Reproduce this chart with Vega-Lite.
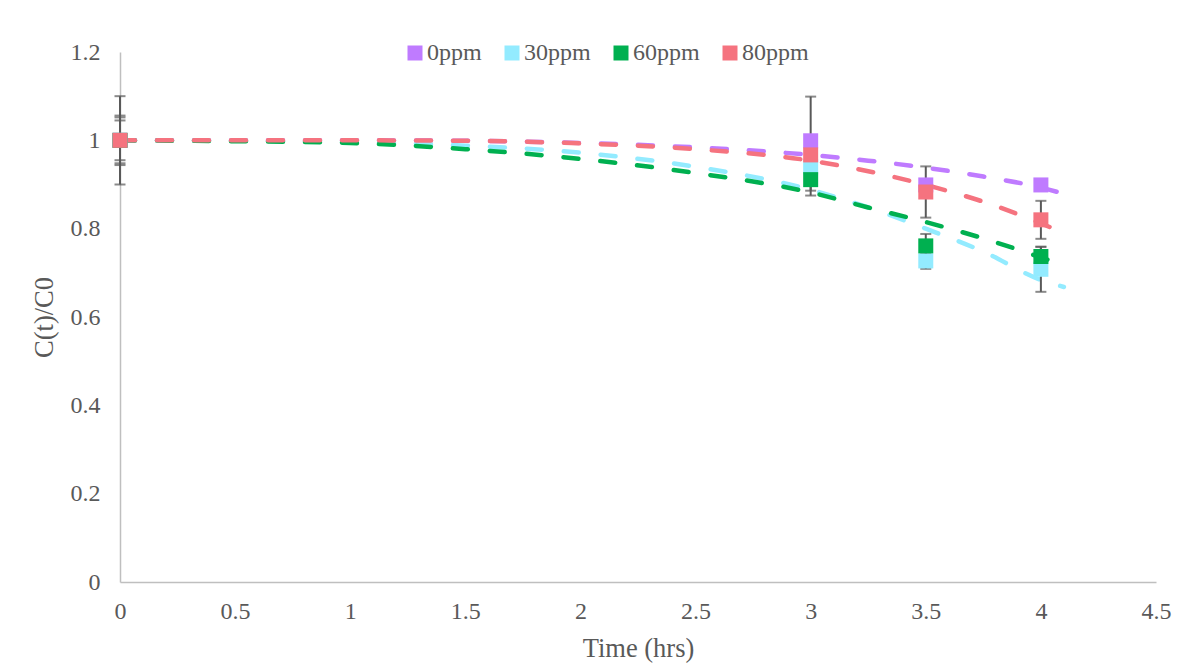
{
  "$schema": "https://vega.github.io/schema/vega-lite/v6.json",
  "width": 1036,
  "height": 530,
  "autosize": {"type": "none"},
  "padding": {"left": 120, "top": 52, "right": 24, "bottom": 82},
  "background": "white",
  "config": {
    "view": {"stroke": null},
    "font": "Times New Roman",
    "axis": {
      "grid": false,
      "ticks": false,
      "domainColor": "#BFBFBF",
      "domainWidth": 1.5,
      "labelColor": "#595959",
      "titleColor": "#595959",
      "labelFont": "Times New Roman",
      "titleFont": "Times New Roman",
      "labelFontSize": 24,
      "titleFontSize": 26.5,
      "titleFontWeight": "normal"
    },
    "legend": {
      "labelFont": "Times New Roman"
    }
  },
  "datasets": {
    "points": [
      {"series": "0ppm", "t": 0, "y": 1, "lo": 0.9, "hi": 1.1},
      {"series": "0ppm", "t": 3, "y": 0.999, "lo": 0.899, "hi": 1.099},
      {"series": "0ppm", "t": 3.5, "y": 0.899, "lo": 0.895, "hi": 0.903},
      {"series": "0ppm", "t": 4, "y": 0.899, "lo": 0.895, "hi": 0.903},
      {"series": "30ppm", "t": 0, "y": 1, "lo": 0.944, "hi": 1.056},
      {"series": "30ppm", "t": 3, "y": 0.94, "lo": 0.875, "hi": 1.005},
      {"series": "30ppm", "t": 3.5, "y": 0.727, "lo": 0.709, "hi": 0.745},
      {"series": "30ppm", "t": 4, "y": 0.708, "lo": 0.657, "hi": 0.759},
      {"series": "60ppm", "t": 0, "y": 1, "lo": 0.955, "hi": 1.045},
      {"series": "60ppm", "t": 3, "y": 0.911, "lo": 0.886, "hi": 0.936},
      {"series": "60ppm", "t": 3.5, "y": 0.761, "lo": 0.734, "hi": 0.788},
      {"series": "60ppm", "t": 4, "y": 0.737, "lo": 0.715, "hi": 0.759},
      {"series": "80ppm", "t": 0, "y": 1, "lo": 0.948, "hi": 1.052},
      {"series": "80ppm", "t": 3, "y": 0.967, "lo": 0.955, "hi": 0.979},
      {"series": "80ppm", "t": 3.5, "y": 0.883, "lo": 0.825, "hi": 0.941},
      {"series": "80ppm", "t": 4, "y": 0.82, "lo": 0.777, "hi": 0.863}
    ],
    "trend": [
      {"series": "0ppm", "t": 0, "v": 1},
      {"series": "0ppm", "t": 0.5, "v": 1},
      {"series": "0ppm", "t": 1, "v": 1},
      {"series": "0ppm", "t": 1.5, "v": 0.999},
      {"series": "0ppm", "t": 2, "v": 0.994},
      {"series": "0ppm", "t": 2.5, "v": 0.984},
      {"series": "0ppm", "t": 3, "v": 0.967},
      {"series": "0ppm", "t": 3.25, "v": 0.954},
      {"series": "0ppm", "t": 3.5, "v": 0.938},
      {"series": "0ppm", "t": 3.75, "v": 0.918},
      {"series": "0ppm", "t": 4, "v": 0.893},
      {"series": "0ppm", "t": 4.1, "v": 0.879},
      {"series": "30ppm", "t": 0, "v": 1},
      {"series": "30ppm", "t": 0.5, "v": 0.999},
      {"series": "30ppm", "t": 1, "v": 0.996},
      {"series": "30ppm", "t": 1.5, "v": 0.988},
      {"series": "30ppm", "t": 2, "v": 0.972},
      {"series": "30ppm", "t": 2.5, "v": 0.94},
      {"series": "30ppm", "t": 3, "v": 0.888},
      {"series": "30ppm", "t": 3.25, "v": 0.848},
      {"series": "30ppm", "t": 3.5, "v": 0.8},
      {"series": "30ppm", "t": 3.75, "v": 0.748},
      {"series": "30ppm", "t": 4, "v": 0.684},
      {"series": "30ppm", "t": 4.1, "v": 0.668},
      {"series": "60ppm", "t": 0, "v": 1},
      {"series": "60ppm", "t": 0.5, "v": 0.998},
      {"series": "60ppm", "t": 1, "v": 0.994},
      {"series": "60ppm", "t": 1.5, "v": 0.98},
      {"series": "60ppm", "t": 2, "v": 0.958},
      {"series": "60ppm", "t": 2.5, "v": 0.926},
      {"series": "60ppm", "t": 3, "v": 0.882},
      {"series": "60ppm", "t": 3.25, "v": 0.848},
      {"series": "60ppm", "t": 3.5, "v": 0.815},
      {"series": "60ppm", "t": 3.75, "v": 0.778},
      {"series": "60ppm", "t": 4, "v": 0.735},
      {"series": "60ppm", "t": 4.1, "v": 0.717},
      {"series": "80ppm", "t": 0, "v": 1},
      {"series": "80ppm", "t": 0.5, "v": 1},
      {"series": "80ppm", "t": 1, "v": 1},
      {"series": "80ppm", "t": 1.5, "v": 0.999},
      {"series": "80ppm", "t": 2, "v": 0.993},
      {"series": "80ppm", "t": 2.5, "v": 0.98},
      {"series": "80ppm", "t": 3, "v": 0.954},
      {"series": "80ppm", "t": 3.25, "v": 0.93},
      {"series": "80ppm", "t": 3.5, "v": 0.899},
      {"series": "80ppm", "t": 3.75, "v": 0.861},
      {"series": "80ppm", "t": 4, "v": 0.812},
      {"series": "80ppm", "t": 4.1, "v": 0.79}
    ]
  },
  "layer": [
    {
      "data": {"name": "trend"},
      "mark": {"type": "line", "strokeWidth": 4.5, "strokeDash": [15, 22], "strokeCap": "round", "interpolate": "monotone"},
      "encoding": {
        "x": {"field": "t", "type": "quantitative"},
        "y": {"field": "v", "type": "quantitative"},
        "color": {"field": "series", "type": "nominal"}
      }
    },
    {
      "data": {"name": "points"},
      "mark": {"type": "rule", "color": "#595959", "strokeWidth": 2},
      "encoding": {
        "x": {"field": "t", "type": "quantitative"},
        "y": {"field": "lo", "type": "quantitative"},
        "y2": {"field": "hi"}
      }
    },
    {
      "data": {"name": "points"},
      "mark": {"type": "tick", "orient": "horizontal", "color": "#595959", "thickness": 2, "size": 11},
      "encoding": {
        "x": {"field": "t", "type": "quantitative"},
        "y": {"field": "lo", "type": "quantitative"}
      }
    },
    {
      "data": {"name": "points"},
      "mark": {"type": "tick", "orient": "horizontal", "color": "#595959", "thickness": 2, "size": 11},
      "encoding": {
        "x": {"field": "t", "type": "quantitative"},
        "y": {"field": "hi", "type": "quantitative"}
      }
    },
    {
      "data": {"name": "points"},
      "mark": {"type": "point", "shape": "square", "filled": true, "size": 225, "opacity": 1, "strokeWidth": 0},
      "encoding": {
        "x": {"field": "t", "type": "quantitative", "title": "Time (hrs)",
          "scale": {"domain": [0, 4.5], "nice": false, "zero": true},
          "axis": {"values": [0, 0.5, 1, 1.5, 2, 2.5, 3, 3.5, 4, 4.5], "format": "~f", "labelPadding": 17, "titlePadding": 12, "labelFlush": false}},
        "y": {"field": "y", "type": "quantitative", "title": "C(t)/C0",
          "scale": {"domain": [0, 1.2], "nice": false},
          "axis": {"values": [0, 0.2, 0.4, 0.6, 0.8, 1, 1.2], "format": "~f", "labelPadding": 20, "titlePadding": 12}},
        "color": {"field": "series", "type": "nominal",
          "scale": {"domain": ["0ppm", "30ppm", "60ppm", "80ppm"], "range": ["#BF7BFF", "#93EBFF", "#00B050", "#F5737F"]},
          "legend": {"title": null, "orient": "none", "direction": "horizontal", "legendX": 283, "legendY": -11,
            "symbolType": "square", "symbolSize": 225, "symbolStrokeWidth": 0, "symbolOpacity": 1, "labelFontSize": 24,
            "labelColor": "#595959", "labelOffset": 0, "columnPadding": 18}}
      }
    }
  ]
}
